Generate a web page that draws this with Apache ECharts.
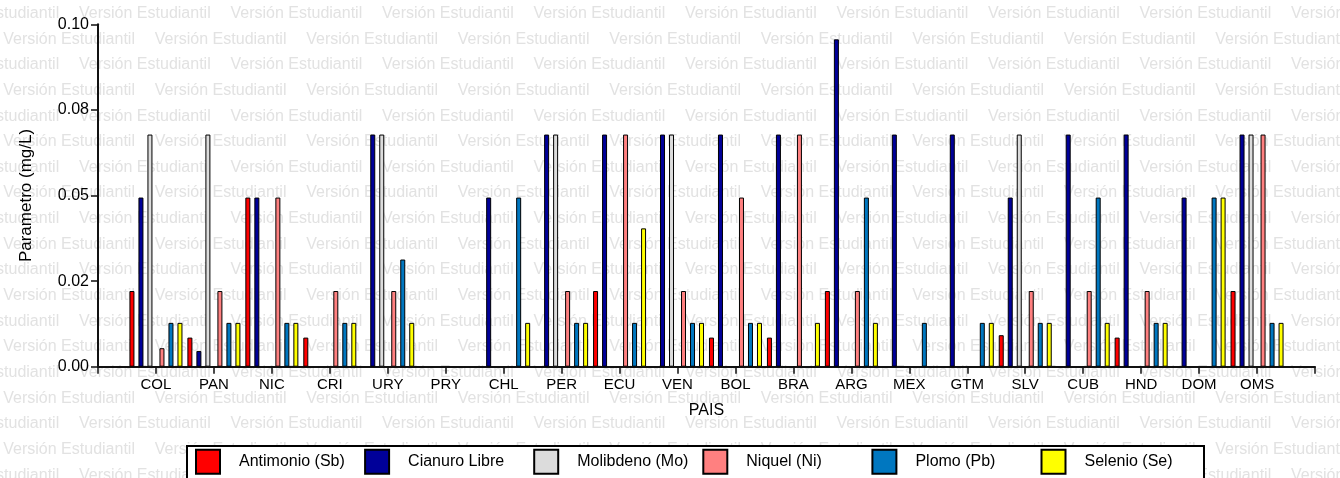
<!DOCTYPE html>
<html>
<head>
<meta charset="utf-8">
<script src="https://cdn.jsdelivr.net/npm/echarts@6/dist/echarts.min.js"></script>
<style>
html,body{margin:0;padding:0;background:#fff;}
#chart{width:1340px;height:478px;}
</style>
</head>
<body>
<div id="chart"></div>
<script>
// ---- data (in the units of its y axis) ----
const countries = ['COL','PAN','NIC','CRI','URY','PRY','CHL','PER','ECU','VEN','BOL','BRA','ARG','MEX','GTM','SLV','CUB','HND','DOM','OMS'];
const antimonio = [0.0221,0.0085,0.0494,0.0085,null,null,null,null,0.0221,null,0.0085,0.0085,0.0221,null,null,0.0092,null,0.0085,null,0.0221];
const cianuro   = [0.0494,0.0046,0.0494,null,0.0678,null,0.0494,0.0678,0.0678,0.0678,0.0678,0.0678,0.0956,0.0678,0.0678,0.0494,0.0678,0.0678,0.0494,0.0678];
const molibdeno = [0.0678,0.0678,null,null,0.0678,null,null,0.0678,null,0.0678,null,null,null,null,null,0.0678,null,null,null,0.0678];
const niquel    = [0.0054,0.0221,0.0494,0.0221,0.0221,null,null,0.0221,0.0678,0.0221,0.0494,0.0678,0.0221,null,null,0.0221,0.0221,0.0221,null,0.0678];
const plomo     = [0.0128,0.0128,0.0128,0.0128,0.0313,null,0.0494,0.0128,0.0128,0.0128,0.0128,null,0.0494,0.0128,0.0128,0.0128,0.0494,0.0128,0.0494,0.0128];
const selenio   = [0.0128,0.0128,0.0128,0.0128,0.0128,null,0.0128,0.0128,0.0404,0.0128,0.0128,0.0128,0.0128,null,0.0128,0.0128,0.0128,0.0128,0.0494,0.0128];
const seriesNames = ['Antimonio (Sb)','Cianuro Libre','Molibdeno (Mo)','Niquel (Ni)','Plomo (Pb)','Selenio (Se)'];
const yTickLabels = ['0.00','0.02','0.05','0.08','0.10'];
const yAxisTitle = 'Parametro (mg/L)';
const xAxisTitle = 'PAIS';
const watermarkText = 'Versión Estudiantil';

// ---- styling ----
const colors = ['#ff0000','#000099','#dcdcdc','#ff8080','#0077c0','#ffff00'];
const FONT = '"Liberation Sans", Arial, Helvetica, sans-serif';

const xCats = [''].concat(countries, ['']);
const pad = arr => [null].concat(arr, [null]);
const allSeries = [antimonio, cianuro, molibdeno, niquel, plomo, selenio];

function barSeries(name, arr, color) {
  return {
    type: 'bar', name: name, data: pad(arr),
    barWidth: 5, barGap: '80%',
    itemStyle: { color: color, borderColor: '#000', borderWidth: 1 },
    emphasis: { disabled: true }, z: 3
  };
}
const series = [];
for (let i = 0; i < 3; i++) series.push(barSeries(seriesNames[i], allSeries[i], colors[i]));
// empty spacer column: widens the gap in the middle of each group
series.push({ type: 'bar', name: '_spacer', data: xCats.map(() => null), barWidth: 1.67, barGap: '80%', silent: true });
for (let i = 3; i < 6; i++) series.push(barSeries(seriesNames[i], allSeries[i], colors[i]));

// watermark (background text)
const graphics = [];
for (let r = 0; r < 19; r++) {
  const y = 13.5 + r * 25.65;
  let x = (r % 2 === 0) ? 3.3 + 75.75 - 151.5 : 3.3;
  for (; x < 1340; x += 151.5) {
    graphics.push({ type: 'text', x: x, y: y, z: -10, silent: true,
      style: { text: watermarkText, fontSize: 16, fontFamily: FONT, fill: '#e2e2e2', verticalAlign: 'middle', align: 'left' } });
  }
}
// legend frame
graphics.push({ type: 'rect', z: 5, silent: true,
  shape: { x: 187, y: 446, width: 1017, height: 45 },
  style: { fill: '#fff', stroke: '#000', lineWidth: 2 } });

// one legend entry per component so each entry sits on a fixed pitch
const legends = seriesNames.map((name, i) => ({
  data: [name],
  left: 195 + i * 169.1, top: 448.7,
  padding: 0,
  itemWidth: 24, itemHeight: 24,
  icon: 'rect',
  selectedMode: false, z: 10,
  textStyle: { fontFamily: FONT, fontSize: 16, color: '#000', padding: [0, 0, 0, 14] }
}));

const chart = echarts.init(document.getElementById('chart'), null, { renderer: 'canvas' });
chart.setOption({
  animation: false,
  backgroundColor: '#fff',
  textStyle: { fontFamily: FONT },
  graphic: { elements: graphics },
  grid: { left: 98, right: 25, top: 24.3, bottom: 111.3, containLabel: false },
  legend: legends,
  xAxis: {
    type: 'category', data: xCats, boundaryGap: false,
    name: xAxisTitle, nameLocation: 'middle', nameGap: 36,
    nameTextStyle: { fontFamily: FONT, fontSize: 16, color: '#000' },
    axisLine: { show: true, lineStyle: { color: '#111', width: 2 } },
    axisTick: { show: true, interval: 0, length: 7, lineStyle: { color: '#111', width: 1.5 } },
    axisLabel: { interval: 0, fontFamily: FONT, fontSize: 15, color: '#000', margin: 11 },
    splitLine: { show: false }
  },
  yAxis: {
    type: 'value', min: 0, max: 0.1, interval: 0.025,
    name: yAxisTitle, nameLocation: 'middle', nameGap: 63, nameRotate: 90,
    nameTextStyle: { fontFamily: FONT, fontSize: 17, color: '#000' },
    axisLine: { show: true, lineStyle: { color: '#111', width: 2 } },
    axisTick: { show: true, length: 7, lineStyle: { color: '#111', width: 1.5 } },
    axisLabel: { fontFamily: FONT, fontSize: 16, color: '#000', margin: 9,
      formatter: v => yTickLabels[Math.round(v / 0.025)] },
    splitLine: { show: false }
  },
  series: series
});
</script>
</body>
</html>
